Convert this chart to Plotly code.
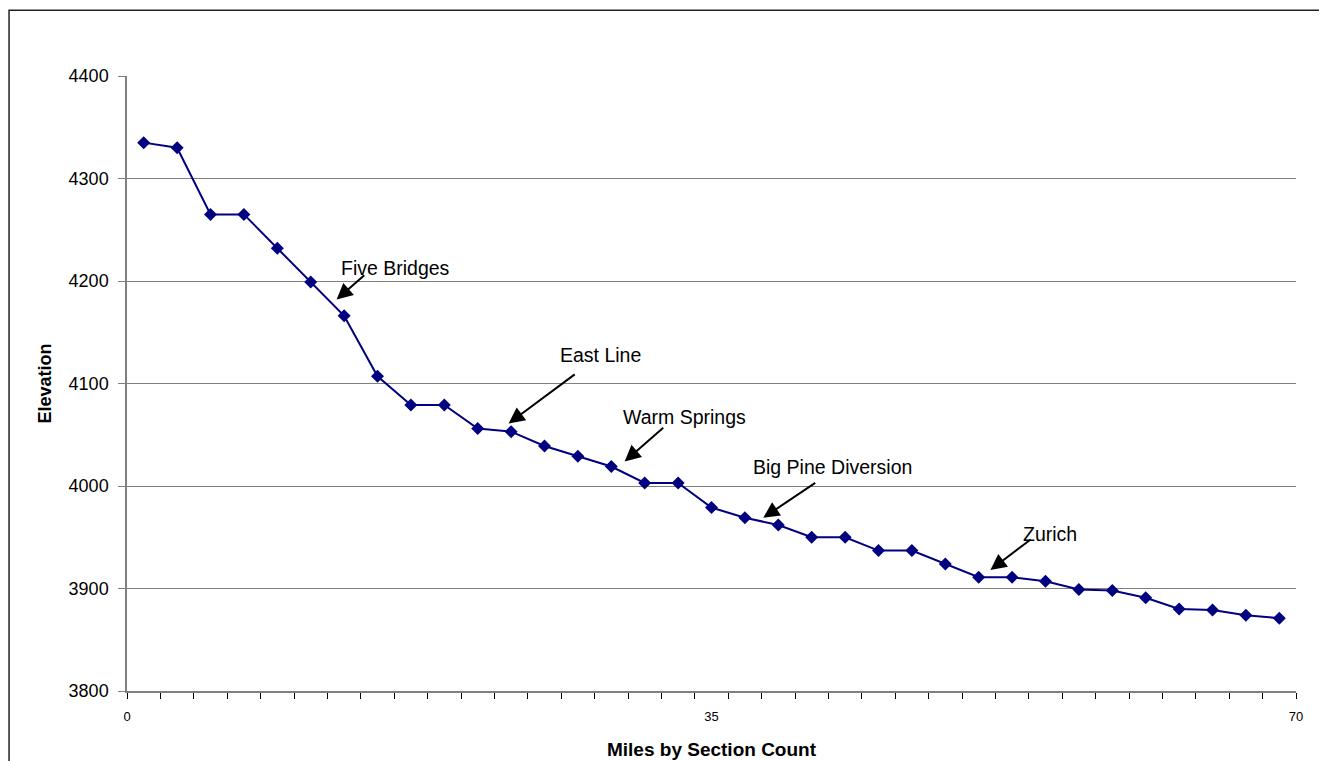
import plotly.graph_objects as go

# Data
miles = [1, 3, 5, 7, 9, 11, 13, 15, 17, 19, 21, 23, 25, 27, 29, 31, 33, 35,
         37, 39, 41, 43, 45, 47, 49, 51, 53, 55, 57, 59, 61, 63, 65, 67, 69]
elevation = [4335, 4330, 4265, 4265, 4232, 4199, 4166, 4107, 4079, 4079,
             4056, 4053, 4039, 4029, 4019, 4003, 4003, 3979, 3969, 3962,
             3950, 3950, 3937, 3937, 3924, 3911, 3911, 3907, 3899, 3898,
             3891, 3880, 3879, 3874, 3871]
x_tick_vals = [0, 35, 70]
x_tick_text = ["0", "35", "70"]
y_tick_vals = [3800, 3900, 4000, 4100, 4200, 4300, 4400]
place_names = ["Five Bridges", "East Line", "Warm Springs", "Big Pine Diversion", "Zurich"]

FONT = "Liberation Sans, Arial, sans-serif"

fig = go.Figure()
fig.add_trace(go.Scatter(
    x=miles, y=elevation, mode="lines+markers",
    line=dict(color="#000080", width=2),
    marker=dict(symbol="diamond", size=10, color="#000080"),
    showlegend=False,
))

# annotation geometry: (head x, head y, tail x, tail y, text x, text y)
geom = [
    (12.55, 4182, 14.3, 4207, 16.1, 4213),
    (22.85, 4061, 26.9, 4110, 28.35, 4128),
    (29.8, 4024, 32.2, 4058, 33.4, 4067),
    (38.1, 3969, 41.3, 4004, 42.25, 4019),
    (51.7, 3918, 54.2, 3949, 55.25, 3953),
]
annotations = []
for name, (hx, hy, tx, ty, lx, ly) in zip(place_names, geom):
    annotations.append(dict(
        x=hx, y=hy, ax=tx, ay=ty, xref="x", yref="y", axref="x", ayref="y",
        text="", showarrow=True, arrowhead=2, arrowsize=1.6, arrowwidth=2,
        arrowcolor="#000000", standoff=0, startstandoff=0,
    ))
    annotations.append(dict(
        x=lx, y=ly, xref="x", yref="y", text=name, showarrow=False,
        font=dict(family=FONT, size=19.5, color="#000000"),
        xanchor="center", yanchor="middle",
    ))

fig.update_layout(
    width=1319, height=753,
    margin=dict(l=119, r=31, t=68, b=70),
    paper_bgcolor="white", plot_bgcolor="white",
    font=dict(family=FONT, color="#000000"),
    annotations=annotations,
    shapes=[dict(
        type="rect", xref="paper", yref="paper",
        x0=-0.1009, x1=1.1, y0=-0.2, y1=1.107,
        line=dict(color="#222222", width=1.5), fillcolor="rgba(0,0,0,0)",
        layer="below",
    )],
    xaxis=dict(
        range=[0, 70], tickvals=x_tick_vals, ticktext=x_tick_text,
        ticks="", showgrid=False, zeroline=False, automargin=False,
        showline=True, linecolor="#808080", linewidth=1.5,
        tickfont=dict(family=FONT, size=13, color="#000000"),
        ticklabelstandoff=13,
        minor=dict(ticks="outside", dtick=2, tick0=0, ticklen=6,
                   tickcolor="#000000", tickwidth=1, showgrid=False),
        title=dict(text="<b>Miles by Section Count</b>",
                   font=dict(family=FONT, size=19, color="#000000"), standoff=19),
    ),
    yaxis=dict(
        range=[3800, 4400], tickvals=y_tick_vals, automargin=False,
        ticks="outside", ticklen=7, tickcolor="#808080", tickwidth=1,
        showgrid=True, gridcolor="#808080", gridwidth=1, zeroline=False,
        showline=True, linecolor="#808080", linewidth=1.5,
        tickfont=dict(family=FONT, size=18, color="#000000"),
        ticklabelstandoff=6,
        title=dict(text="<b>Elevation</b>",
                   font=dict(family=FONT, size=18, color="#000000"), standoff=12),
    ),
)

fig.write_html("out.html")
